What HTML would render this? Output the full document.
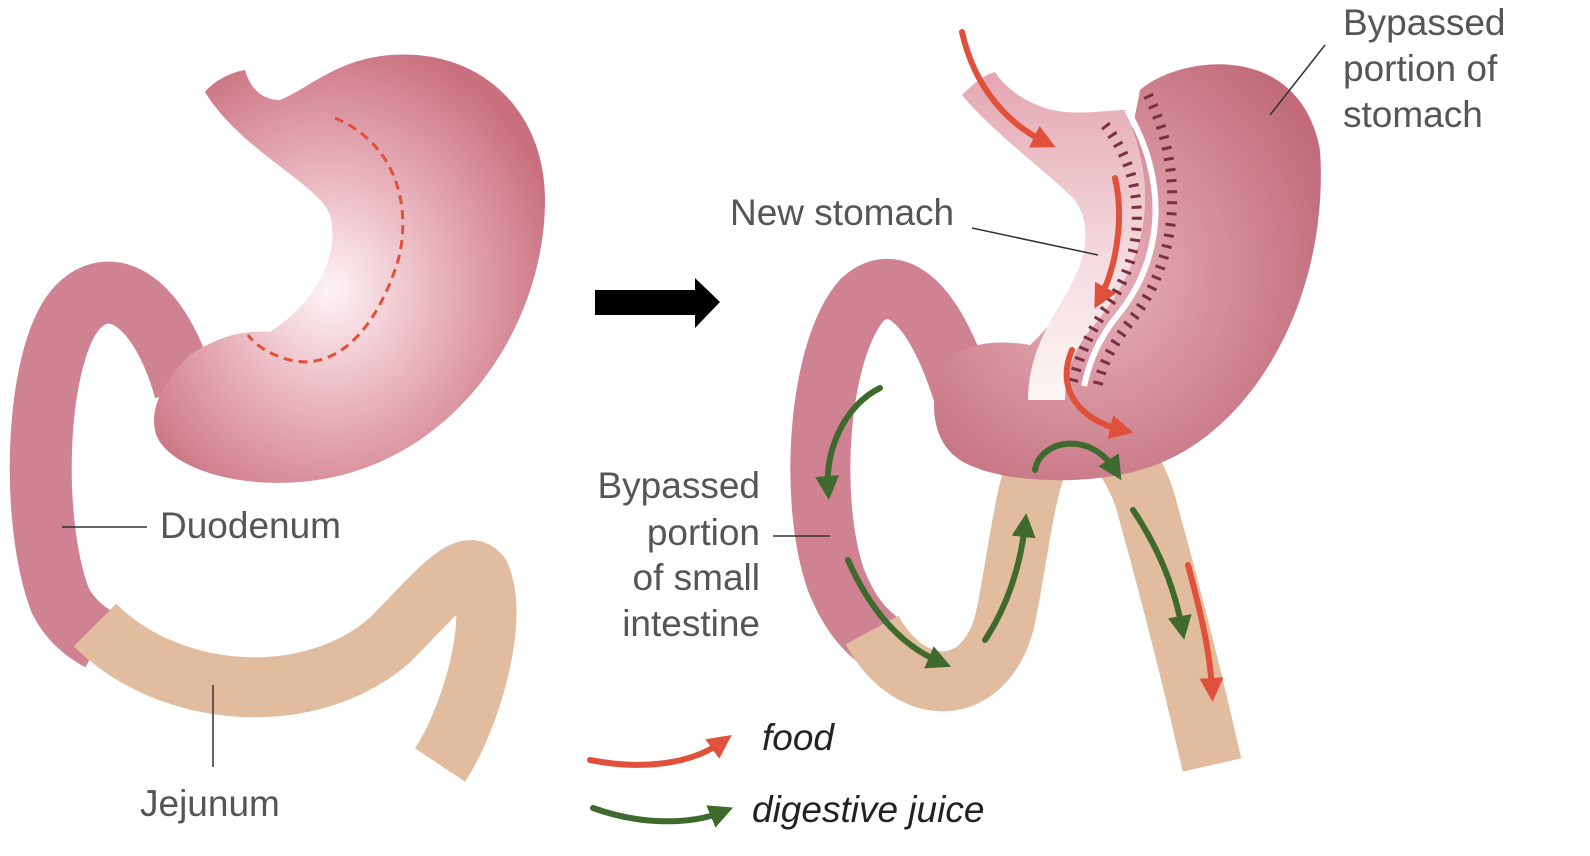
<!DOCTYPE html>
<html><head><meta charset="utf-8"><style>
html,body{margin:0;padding:0;background:#fff}
svg{display:block}
text{font-family:"Liberation Sans",sans-serif;fill:#555;font-size:37px}
</style></head><body>
<svg width="1590" height="856" viewBox="0 0 1590 856" xmlns="http://www.w3.org/2000/svg">
<defs>
<radialGradient id="st" cx="0.45" cy="0.55" r="0.6">
<stop offset="0" stop-color="#fdf4f5"/><stop offset="0.45" stop-color="#eab5bf"/><stop offset="1" stop-color="#c9707f"/></radialGradient>
<radialGradient id="st2" cx="0.4" cy="0.5" r="0.65">
<stop offset="0" stop-color="#e9b4bd"/><stop offset="1" stop-color="#c26c7b"/></radialGradient>
<linearGradient id="pouch" x1="0" y1="0" x2="0" y2="1"><stop offset="0" stop-color="#e4a6b1"/><stop offset="0.6" stop-color="#f5dde1"/><stop offset="1" stop-color="#fdf6f3"/></linearGradient>
<marker id="ar" viewBox="0 0 10 10" refX="5" refY="5" markerWidth="4" markerHeight="4" orient="auto"><path d="M0,0 L10,5 L0,10 Z" fill="#e0503a"/></marker>
<marker id="ag" viewBox="0 0 10 10" refX="5" refY="5" markerWidth="4" markerHeight="4" orient="auto"><path d="M0,0 L10,5 L0,10 Z" fill="#3e6a2e"/></marker>
</defs>

<!-- LEFT -->
<path d="M185,390 C160,300 110,270 75,310 C35,360 30,520 60,600 C70,620 85,632 100,640" fill="none" stroke="#cf8392" stroke-width="62"/>
<path d="M95,625 C170,700 310,710 390,640 C430,600 465,555 480,575 C500,620 470,720 440,765" fill="none" stroke="#e2bc9f" stroke-width="60"/>
<path d="M205,92 C215,80 232,72 245,70 C250,88 262,100 280,100 C310,88 335,60 390,55 C480,48 545,110 545,200 C545,330 450,470 300,482 C220,488 160,460 155,430 C150,405 165,380 190,355 C220,335 245,330 270,332 C320,300 340,250 330,215 C320,185 240,150 205,92 Z" fill="url(#st)"/>
<path d="M335,118 C410,150 410,230 395,270 C370,340 330,370 290,360 C270,355 255,345 248,335" fill="none" stroke="#e0503a" stroke-width="3" stroke-dasharray="9,6"/>
<line x1="62" y1="527" x2="147" y2="527" stroke="#333" stroke-width="1.5"/>
<line x1="213" y1="685" x2="213" y2="767" stroke="#333" stroke-width="1.5"/>
<text x="160" y="538">Duodenum</text>
<text x="140" y="816">Jejunum</text>

<!-- big arrow -->
<path d="M595,290 L695,290 L695,278 L720,302 L695,328 L695,315 L595,315 Z" fill="#000"/>

<!-- RIGHT -->
<path d="M965,400 C935,300 895,270 862,300 C818,350 808,500 836,580 C850,615 865,630 878,640" fill="none" stroke="#cf8392" stroke-width="60"/>
<path d="M872,630 C910,700 985,700 1005,620 C1020,550 1025,470 1050,440 C1085,410 1125,440 1145,500 C1170,590 1195,690 1212,765" fill="none" stroke="#e2bc9f" stroke-width="60"/>
<path d="M1140,90 C1180,55 1300,40 1320,150 C1330,300 1250,440 1140,470 C1090,485 1000,485 960,460 C930,440 930,400 940,370 C960,340 1000,340 1030,345 C1080,300 1120,200 1140,90 Z" fill="url(#st2)"/>
<path d="M1125,110 C1160,190 1150,260 1090,330 C1070,355 1065,380 1065,400 L1028,400 C1028,370 1038,340 1058,308 C1085,265 1095,230 1075,200 C1045,170 990,130 962,95 C975,82 985,75 995,72 C1010,95 1040,110 1065,112 C1090,114 1110,110 1125,110 Z" fill="url(#pouch)"/>
<path d="M1105,125 C1145,175 1150,250 1105,310 C1088,335 1078,360 1072,385" fill="none" stroke="#7a3040" stroke-width="10" stroke-dasharray="3,8"/>
<path d="M1148,95 C1185,170 1180,260 1130,322 C1112,345 1102,365 1097,388" fill="none" stroke="#7a3040" stroke-width="10" stroke-dasharray="3,8"/>
<path d="M1127,110 C1168,180 1165,258 1117,316 C1098,340 1090,360 1084,386" fill="none" stroke="#fff" stroke-width="6"/>

<!-- red arrows -->
<g fill="none" stroke="#e0503a" stroke-width="6" stroke-linecap="round">
<path d="M962,32 C975,90 1010,125 1045,142" marker-end="url(#ar)"/>
<path d="M1115,178 C1125,220 1115,270 1100,298" marker-end="url(#ar)"/>
<path d="M1072,350 C1055,390 1080,420 1122,430" marker-end="url(#ar)"/>
<path d="M1188,565 C1200,610 1210,650 1212,690" marker-end="url(#ar)"/>
<path d="M590,760 C640,770 690,765 722,742" marker-end="url(#ar)"/>
</g>
<!-- green arrows -->
<g fill="none" stroke="#3e6a2e" stroke-width="6" stroke-linecap="round">
<path d="M880,388 C845,405 825,450 828,488" marker-end="url(#ag)"/>
<path d="M848,560 C870,610 900,645 940,662" marker-end="url(#ag)"/>
<path d="M985,640 C1005,610 1020,570 1025,525" marker-end="url(#ag)"/>
<path d="M1035,470 C1040,440 1090,430 1115,470" marker-end="url(#ag)"/>
<path d="M1133,510 C1160,550 1175,590 1182,628" marker-end="url(#ag)"/>
<path d="M593,808 C640,825 690,825 722,812" marker-end="url(#ag)"/>
</g>

<line x1="972" y1="228" x2="1098" y2="255" stroke="#333" stroke-width="1.5"/>
<line x1="1325" y1="45" x2="1270" y2="115" stroke="#333" stroke-width="1.5"/>
<line x1="773" y1="536" x2="830" y2="536" stroke="#333" stroke-width="1.5"/>

<text x="730" y="225">New stomach</text>
<text x="1343" y="35">Bypassed</text>
<text x="1343" y="81">portion of</text>
<text x="1343" y="127">stomach</text>
<text x="760" y="498" text-anchor="end">Bypassed</text>
<text x="760" y="545" text-anchor="end">portion</text>
<text x="760" y="590" text-anchor="end">of small</text>
<text x="760" y="636" text-anchor="end">intestine</text>
<text x="762" y="750" font-style="italic" style="fill:#222">food</text>
<text x="752" y="822" font-style="italic" style="fill:#222">digestive juice</text>
</svg>
</body></html>
